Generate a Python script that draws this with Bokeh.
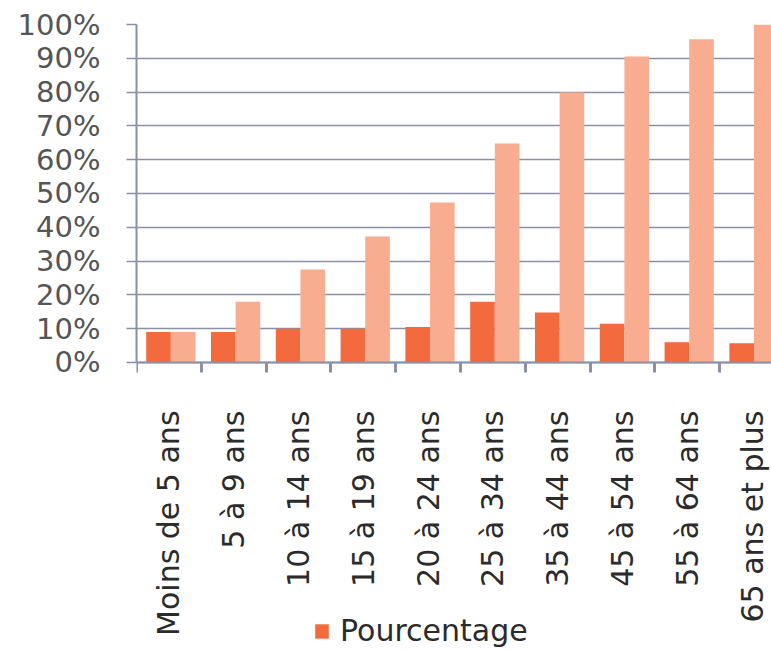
import math
from bokeh.plotting import figure
from bokeh.models import (Range1d, FixedTicker, Legend, LegendItem, ColumnDataSource)
from bokeh.embed import file_html
from bokeh.resources import INLINE

# ---- data ----
categories = ["Moins de 5 ans", "5 à 9 ans", "10 à 14 ans", "15 à 19 ans",
              "20 à 24 ans", "25 à 34 ans", "35 à 44 ans", "45 à 54 ans",
              "55 à 64 ans", "65 ans et plus"]
pourcentage = [9.0, 9.0, 10.0, 10.0, 10.5, 18.0, 14.8, 11.5, 6.0, 5.7]
cumul = [9.0, 18.0, 27.5, 37.3, 47.3, 64.8, 79.9, 90.5, 95.6, 100.0]
y_ticks = [0, 10, 20, 30, 40, 50, 60, 70, 80, 90, 100]
y_labels = ["0%", "10%", "20%", "30%", "40%", "50%", "60%", "70%", "80%", "90%", "100%"]
legend_label = "Pourcentage"

DARK = "#F26A3E"
LIGHT = "#F8AD90"
GRID = "#8A90A6"
FONT = "DejaVu Sans"

centers = [i + 0.5 for i in range(len(categories))]
bw = 0.38
shift = 0.03
src = ColumnDataSource(dict(
    x_dark=[c - bw / 2 + shift for c in centers],
    x_light=[c + bw / 2 + shift for c in centers],
    pourcentage=pourcentage,
    cumul=cumul,
))

# frame covers the whole height; the category axis sits at y = 0 (fixed_location)
p = figure(width=771, height=652, output_backend="svg", toolbar_location=None,
           x_range=Range1d(0, 9.8), y_range=Range1d(-85.8, 100),
           min_border_left=136, min_border_top=24, min_border_right=0,
           min_border_bottom=0)
p.outline_line_color = None
p.background_fill_color = "white"
p.border_fill_color = "white"

r_dark = p.vbar(x="x_dark", top="pourcentage", width=bw, source=src,
                fill_color=DARK, line_color=None)
r_light = p.vbar(x="x_light", top="cumul", width=bw, source=src,
                 fill_color=LIGHT, line_color=None)

# y axis
p.yaxis.bounds = (0, 100)
p.yaxis.ticker = FixedTicker(ticks=y_ticks)
p.yaxis.major_label_overrides = {float(t): l for t, l in zip(y_ticks, y_labels)}
p.yaxis.major_label_text_font = FONT
p.yaxis.major_label_text_font_size = "29px"
p.yaxis.major_label_text_color = "#555555"
p.yaxis.major_label_standoff = 26
p.yaxis.major_tick_out = 10
p.yaxis.major_tick_in = 0
p.yaxis.minor_tick_line_color = None
p.yaxis.axis_line_color = GRID
p.yaxis.axis_line_width = 2
p.yaxis.major_tick_line_color = GRID
p.yaxis.major_tick_line_width = 1.5

p.ygrid.ticker = FixedTicker(ticks=y_ticks)
p.ygrid.grid_line_color = GRID
p.ygrid.grid_line_width = 1.5
p.xgrid.visible = False

# x axis
p.xaxis.fixed_location = 0
p.xaxis.ticker = FixedTicker(ticks=centers, minor_ticks=list(range(len(categories) + 1)))
p.xaxis.major_label_overrides = {float(c): cat for c, cat in zip(centers, categories)}
p.xaxis.major_label_orientation = math.pi / 2
p.xaxis.major_label_text_font = FONT
p.xaxis.major_label_text_font_size = "30px"
p.xaxis.major_label_text_color = "#2b2b2b"
p.xaxis.major_label_standoff = 38
p.xaxis.major_tick_out = 0
p.xaxis.major_tick_in = 0
p.xaxis.minor_tick_out = 10
p.xaxis.minor_tick_in = 0
p.xaxis.minor_tick_line_color = GRID
p.xaxis.minor_tick_line_width = 3
p.xaxis.axis_line_color = GRID
p.xaxis.axis_line_width = 2

legend = Legend(items=[LegendItem(label=legend_label, renderers=[r_dark])],
                location=(177, 4), orientation="horizontal",
                background_fill_alpha=0, border_line_color=None,
                label_text_font=FONT, label_text_font_size="30px",
                label_text_color="#2b2b2b", glyph_width=17, glyph_height=18,
                label_standoff=10, padding=0, margin=0, spacing=0)
p.add_layout(legend, "center")

open("out.html", "w").write(file_html(p, INLINE))
